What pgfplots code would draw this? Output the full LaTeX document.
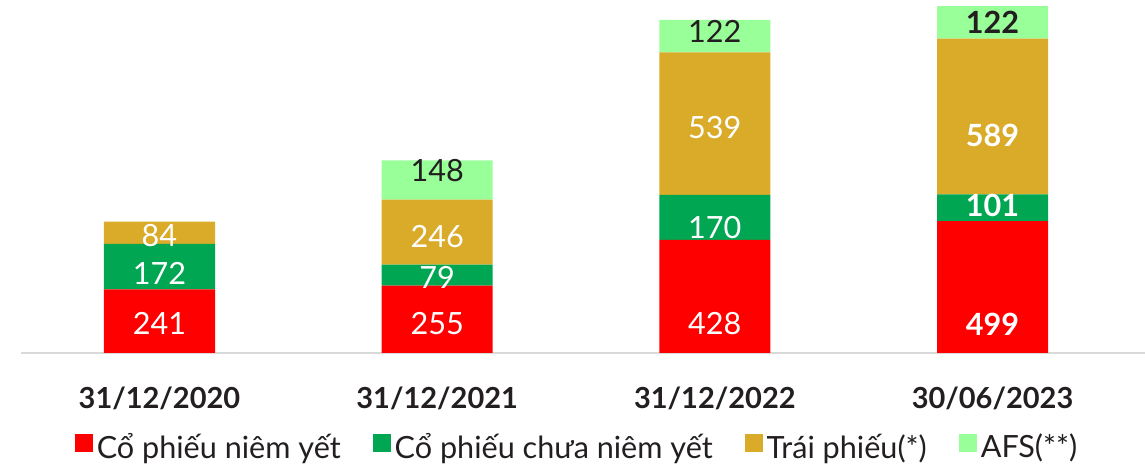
\documentclass[border=0pt]{standalone}
\usepackage{pgfplots}
\usepackage{pgfplotstable}
\pgfplotsset{compat=1.18}
\usepackage{fontspec}
\setmainfont{Lato}

\definecolor{cRed}{HTML}{FF0000}
\definecolor{cGreen}{HTML}{00A651}
\definecolor{cGold}{HTML}{DAAA29}
\definecolor{cLight}{HTML}{99FF99}
\definecolor{txt}{HTML}{231F20}
\definecolor{axisgray}{HTML}{D9D9D9}

% x = period, y = value, dy = label offset (pt)
\pgfplotstableread{
x y dy
0 241 -1.2
1 255 -2
2 428 -13.8
3 499 -18.5
}\listed
\pgfplotstableread{
x y dy
0 172 -3.7
1 79 -1
2 170 -5.3
3 101 1
}\unlisted
\pgfplotstableread{
x y dy
0 84 -1.2
1 246 -2
2 539 -2
3 589 -9.3
}\bonds
\pgfplotstableread{
x y dy
0 0 0
1 148 4.7
2 122 2.2
3 122 0
}\afs

\begin{document}
\begin{tikzpicture}
    \useasboundingbox (-10.5pt,-56pt) rectangle (562pt,176.5pt);
    \begin{axis}[
        scale only axis,
        width=562pt,
        height=176.5pt,
        ybar stacked,
        bar width=0.40,
        xmin=-0.4987, xmax=3.549,
        ymin=0, ymax=1334.6,
        axis y line=none,
        axis x line*=bottom,
        x axis line style={draw=axisgray, line width=1pt, -},
        xtick={0,1,2,3},
        xticklabels={31/12/2020,31/12/2021,31/12/2022,30/06/2023},
        major tick length=0pt,
        xticklabel style={font=\fontsize{14.5}{17}\selectfont\bfseries, text=txt, anchor=base, yshift=-27.5pt},
        /pgf/number format/assume math mode=true,
        visualization depends on={rawy \as \rawy},
        visualization depends on={rawx \as \rawx},
        visualization depends on={\thisrow{dy} \as \dy},
        nodes near coords={\ifdim\rawy pt>0pt \ifdim\rawx pt>2.5pt\bfseries\fi\pgfmathprintnumber{\rawy}\fi},
        every node near coord/.append style={anchor=center, font=\fontsize{15.3}{18}\selectfont, yshift=\dy pt},
        legend columns=4,
        legend style={at={(0.4956,-0.215)}, anchor=north, draw=none, fill=none, inner sep=0pt,
            font=\fontsize{15.3}{18}\selectfont, text=txt,
            /tikz/every even column/.append style={column sep=14pt}},
        legend image code/.code={\fill[#1] (0pt,-2.5pt) rectangle (9pt,6.5pt);},
    ]
    \addplot[fill=cRed, draw=none, every node near coord/.append style={text=white}] table[x=x, y=y] {\listed};
    \addplot[fill=cGreen, draw=none, every node near coord/.append style={text=white}] table[x=x, y=y] {\unlisted};
    \addplot[fill=cGold, draw=none, every node near coord/.append style={text=white}] table[x=x, y=y] {\bonds};
    \addplot[fill=cLight, draw=none, every node near coord/.append style={text=txt}] table[x=x, y=y] {\afs};
    \legend{Cổ phiếu niêm yết, Cổ phiếu chưa niêm yết, Trái phiếu(*), AFS(**)}
    \end{axis}
\end{tikzpicture}
\end{document}
